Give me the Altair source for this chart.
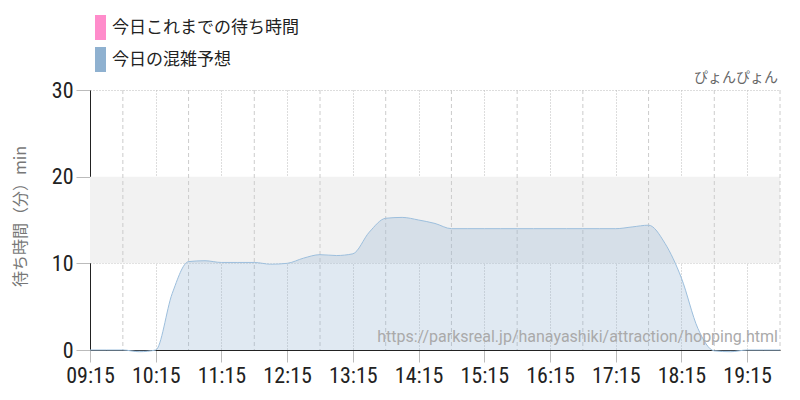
import altair as alt
import pandas as pd

# ---- data ----
time_labels = ["09:15", "09:30", "09:45", "10:00", "10:15", "10:30", "10:45", "11:00",
               "11:15", "11:30", "11:45", "12:00", "12:15", "12:30", "12:45", "13:00",
               "13:15", "13:30", "13:45", "14:00", "14:15", "14:30", "14:45", "15:00",
               "15:15", "15:30", "15:45", "16:00", "16:15", "16:30", "16:45", "17:00",
               "17:15", "17:30", "17:45", "18:00", "18:15", "18:30", "18:45", "19:00",
               "19:15", "19:30", "19:45"]
forecast = [0, 0, 0, -0.2, 0, 6.5, 10.2, 10.3,
            10.1, 10.1, 10.1, 9.9, 10.0, 10.6, 11.0, 10.9,
            11.1, 13.6, 15.2, 15.3, 15.0, 14.6, 14.0, 14.0,
            14.0, 14.0, 14.0, 14.0, 14.0, 14.0, 14.0, 14.0,
            14.0, 14.2, 14.4, 12.3, 8.3, 2.5, -0.1, -0.2,
            0, 0, 0]
today_wait = []  # 今日これまでの待ち時間 (no data yet)
hour_ticks = ["09:15", "10:15", "11:15", "12:15", "13:15", "14:15", "15:15",
              "16:15", "17:15", "18:15", "19:15"]
half_ticks = ["09:45", "10:45", "11:45", "12:45", "13:45", "14:45", "15:45",
              "16:45", "17:45", "18:45", "19:45"]
y_ticks = [0, 10, 20, 30]
band_range = [10, 20]
legend_names = ["今日これまでの待ち時間", "今日の混雑予想"]
legend_colors = ["#ff8ccb", "#8fb1d0"]
site_name = "ぴょんぴょん"
watermark = "https://parksreal.jp/hanayashiki/attraction/hopping.html"


def to_min(s):
    h, m = s.split(":")
    return int(h) * 60 + int(m)


t_all = [to_min(s) for s in time_labels]
df = pd.DataFrame({"t": t_all, "v": forecast})
half_df = pd.DataFrame({"t": [to_min(s) for s in half_ticks]})
band_df = pd.DataFrame({"t": [t_all[0]], "t2": [t_all[-1]], "v": [band_range[0]], "v2": [band_range[1]]})

num_font = "Roboto Condensed, Liberation Sans Narrow, DejaVu Sans Condensed, Roboto, sans-serif"
jp_font = "Noto Sans CJK JP"

label_expr = ("(datum.value < 600 ? '0' : '') + floor(datum.value / 60) + ':' + "
              "(datum.value % 60 < 10 ? '0' : '') + (datum.value % 60)")

xscale = alt.Scale(domain=[t_all[0], t_all[-1]], nice=False, zero=False)
yscale = alt.Scale(domain=[0, 30], nice=False)

xaxis = alt.Axis(values=[to_min(s) for s in hour_ticks], labelExpr=label_expr, title=None,
                 grid=True, gridDash=[1, 2], gridColor="#bbbbbb", gridWidth=1,
                 tickColor="#bbbbbb", tickSize=12, labelFontSize=22, labelFont=num_font,
                 labelColor="#222222", labelPadding=3, domainColor="#222222", labelFlush=False,
                 labelOverlap=False)
yaxis = alt.Axis(values=y_ticks, title="待ち時間（分）min", grid=True, gridDash=[1, 2],
                 gridColor="#bbbbbb", tickColor="#bbbbbb", tickSize=14, labelFontSize=22,
                 labelFont=num_font, labelColor="#222222", labelPadding=3,
                 domainColor="#222222",
                 titleFont=jp_font, titleFontSize=16, titleColor="#777777", titleFontWeight="normal",
                 titleX=-70, titleY=126, titleAlign="center", titleBaseline="middle", titleAngle=-90,
                 labelFlush=False)

X = alt.X("t:Q", scale=xscale, axis=xaxis)
Y = alt.Y("v:Q", scale=yscale, axis=yaxis)

band = alt.Chart(band_df).mark_rect(color="#f2f2f2").encode(
    x=X, x2="t2:Q", y=Y, y2="v2:Q")

half_rules = alt.Chart(half_df).mark_rule(color="#cccccc", strokeDash=[4, 3], strokeWidth=1).encode(x=X)

area = alt.Chart(df).mark_area(
    interpolate="monotone", color=legend_colors[1], opacity=0.28, clip=False
).encode(x=X, y=Y)

line = alt.Chart(df).mark_line(
    interpolate="monotone", color="#9dbfdd", strokeWidth=1, clip=False
).encode(x=X, y=Y)

one = pd.DataFrame({"a": [0]})
legend_layers = []
for i, (name, col) in enumerate(zip(legend_names, legend_colors)):
    ytop = -75 + i * 32
    legend_layers.append(
        alt.Chart(one).mark_rect(color=col).encode(
            x=alt.value(5), x2=alt.value(16), y=alt.value(ytop), y2=alt.value(ytop + 25)))
    legend_layers.append(
        alt.Chart(one).mark_text(text=name, font=jp_font, fontSize=17, color="#222222",
                                 align="left", baseline="middle").encode(
            x=alt.value(22), y=alt.value(ytop + 13)))

site_text = alt.Chart(one).mark_text(text=site_name, font=jp_font, fontSize=14, color="#666666",
                                     align="right", baseline="middle").encode(
    x=alt.value(688), y=alt.value(-12))

wm_text = alt.Chart(one).mark_text(text=watermark, font="Roboto", fontSize=16, color="#aaaaaa",
                                   align="right", baseline="middle").encode(
    x=alt.value(688), y=alt.value(-13 + 260))

chart = alt.layer(band, half_rules, area, line, *legend_layers, site_text, wm_text).properties(
    width=690, height=260,
    autosize=alt.AutoSizeParams(type="none"),
    padding={"left": 82, "top": 82, "right": 12, "bottom": 42},
).configure_view(stroke=None)

chart.save("out.html", embed_options={"renderer": "svg", "actions": False})
